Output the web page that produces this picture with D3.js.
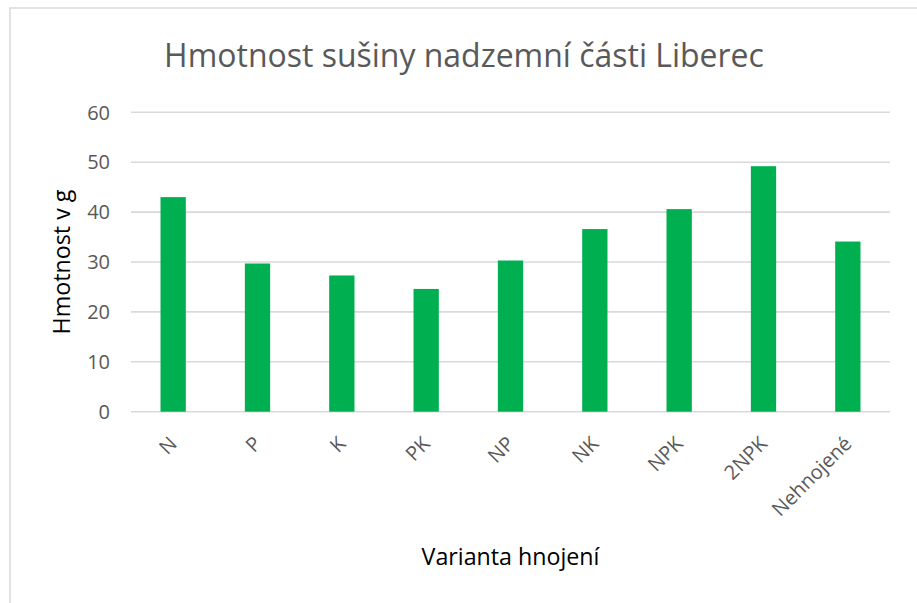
<!DOCTYPE html>
<html>
<head>
<meta charset="utf-8">
<script src="https://cdn.jsdelivr.net/npm/d3@7"></script>
<style>
  body { margin: 0; background: #fff; }
  text { font-family: "Open Sans", "Noto Sans", sans-serif; }
</style>
</head>
<body>
<svg id="chart" width="917" height="603"></svg>
<script>
"use strict"

// data
var varianty = ["N", "P", "K", "PK", "NP", "NK", "NPK", "2NPK", "Nehnojené"];
var hmotnost = [43.0, 29.7, 27.3, 24.6, 30.3, 36.6, 40.6, 49.2, 34.1];
var yTicks = [0, 10, 20, 30, 40, 50, 60];

var TITLE = "Hmotnost sušiny nadzemní části Liberec";
var X_TITLE = "Varianta hnojení";
var Y_TITLE = "Hmotnost v g";

var GREEN = "#00B050";
var GRID = "#d9d9d9";
var LABEL = "#595959";

var svg = d3.select("#chart");

// frame of the chart area (runs off the right & bottom edge)
svg.append("rect")
    .attr("x", 10).attr("y", 8)
    .attr("width", 940).attr("height", 640)
    .attr("fill", "#fff")
    .attr("stroke", GRID)
    .attr("stroke-width", 1.5);

var x = d3.scaleBand()
    .domain(varianty)
    .range([131, 890])
    .paddingInner(0.7)
    .paddingOuter(0.35);

var y = d3.scaleLinear()
    .domain([0, 60])
    .range([411.7, 112.3]);

// scale a text so it fills a given width
function fit(sel, width){
    var size = parseFloat(sel.attr("font-size"));
    var len = sel.node().getComputedTextLength();
    sel.attr("font-size", size * width / len);
}

//gridlines
svg.append("g").selectAll("line")
    .data(yTicks)
    .enter().append("line")
    .attr("x1", 131).attr("x2", 890)
    .attr("y1", function(d){ return y(d); })
    .attr("y2", function(d){ return y(d); })
    .attr("stroke", GRID)
    .attr("stroke-width", 1.6);

//y tick labels
svg.append("g").selectAll("text")
    .data(yTicks)
    .enter().append("text")
    .attr("x", 110)
    .attr("y", function(d){ return y(d); })
    .attr("dy", "0.36em")
    .attr("text-anchor", "end")
    .attr("font-size", 20)
    .attr("fill", LABEL)
    .text(function(d){ return d; });

//bars
svg.append("g").selectAll("rect")
    .data(varianty)
    .enter().append("rect")
    .attr("x", function(d){ return x(d); })
    .attr("width", x.bandwidth())
    .attr("y", function(d, i){ return y(hmotnost[i]); })
    .attr("height", function(d, i){ return y(0) - y(hmotnost[i]); })
    .attr("fill", GREEN);

//x labels, rotated
svg.append("g").selectAll("text")
    .data(varianty)
    .enter().append("text")
    .attr("transform", function(d){
        return "translate(" + (x(d) + x.bandwidth() / 2 + 5) + ",445) rotate(-45)";
    })
    .attr("text-anchor", "end")
    .attr("font-size", 20)
    .attr("fill", LABEL)
    .text(function(d){ return d; });

//titles
var title = svg.append("text")
    .attr("x", 464).attr("y", 67)
    .attr("text-anchor", "middle")
    .attr("font-size", 30)
    .attr("fill", LABEL)
    .text(TITLE);
fit(title, 600);

var xTitle = svg.append("text")
    .attr("x", 510.5).attr("y", 565)
    .attr("text-anchor", "middle")
    .attr("font-size", 19)
    .attr("fill", "#000")
    .text(X_TITLE);
fit(xTitle, 178);

var yTitle = svg.append("text")
    .attr("transform", "translate(70,262) rotate(-90)")
    .attr("text-anchor", "middle")
    .attr("font-size", 19)
    .attr("fill", "#000")
    .text(Y_TITLE);
fit(yTitle, 145);
</script>
</body>
</html>
